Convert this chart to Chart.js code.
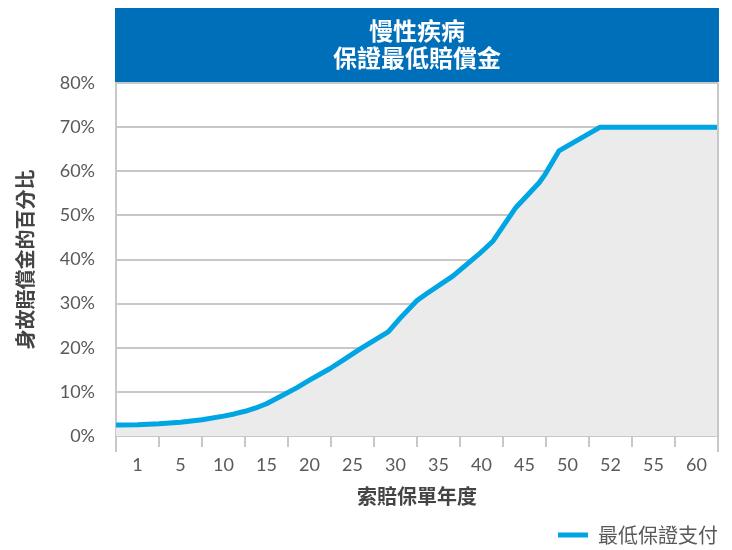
<!DOCTYPE html>
<html>
<head>
<meta charset="utf-8">
<script src="https://cdn.jsdelivr.net/npm/chart.js@4"></script>
<style>
  body { margin: 0; background: #fff; }
  #wrap { width: 732px; height: 550px; }
</style>
</head>
<body>
<div id="wrap"><canvas id="myChart" width="732" height="550"></canvas></div>
<script>
var titleLines = ["慢性疾病", "保證最低賠償金"];
var yearLabels = ["1", "5", "10", "15", "20", "25", "30", "35", "40", "45", "50", "52", "55", "60"];
var yTitle = "身故賠償金的百分比";
var xTitle = "索賠保單年度";
var seriesName = "最低保證支付";

// position along the year axis (in label slots) and payout %
var curveX = [0, 0.5, 1.0, 1.5, 2.0, 2.5, 2.75, 3.0, 3.25, 3.5, 3.81, 4.2, 4.51, 4.98, 5.3, 5.67, 6.33, 6.6, 7.0, 7.23, 7.84, 8.44, 8.77, 9.3, 9.84, 9.98, 10.3, 11.26, 14];
var curveY = [2.5, 2.55, 2.75, 3.1, 3.7, 4.5, 5.0, 5.6, 6.35, 7.3, 8.9, 10.9, 12.7, 15.3, 17.3, 19.7, 23.6, 26.6, 30.7, 32.3, 36.3, 41.2, 44.2, 51.8, 57.4, 59.3, 64.6, 70, 70];

var blue = "#00a5e3";
var gridGrey = "#c8c8c8";
var textGrey = "#595959";
var numFont = "Lato, 'Noto Sans CJK TC', sans-serif";
var cjkFont = "'Noto Sans CJK TC', sans-serif";

var points = [];
for (let i = 0; i < curveX.length; i++) {
    points.push({ x: curveX[i], y: curveY[i] });
}

// blue title banner and frame lines
var framePlugin = {
    id: "frame",
    beforeDraw(chart) {
        const ctx = chart.ctx;
        const a = chart.chartArea;
        ctx.save();
        ctx.fillStyle = "#006fba";
        ctx.fillRect(a.left - 1, 8, a.right - a.left + 2, a.top - 9);
        ctx.fillStyle = "#fff";
        ctx.font = "bold 24px " + cjkFont;
        ctx.textAlign = "center";
        ctx.textBaseline = "middle";
        const cx = (a.left + a.right) / 2;
        ctx.fillText(titleLines[0], cx, 31);
        ctx.fillText(titleLines[1], cx, 58);
        ctx.restore();
    },
    afterDraw(chart) {
        const ctx = chart.ctx;
        const a = chart.chartArea;
        ctx.save();
        ctx.strokeStyle = gridGrey;
        ctx.lineWidth = 2;
        ctx.beginPath();
        ctx.moveTo(a.left, a.top);
        ctx.lineTo(a.right, a.top);
        ctx.moveTo(a.right, a.top);
        ctx.lineTo(a.right, a.bottom + 16);
        ctx.moveTo(a.left, a.bottom);
        ctx.lineTo(a.left, a.bottom + 16);
        ctx.stroke();
        ctx.restore();
    }
};

var chart = new Chart(document.getElementById("myChart"), {
    type: "line",
    data: {
        datasets: [{
            label: seriesName,
            data: points,
            borderColor: blue,
            backgroundColor: "#ebebeb",
            borderWidth: 5,
            borderJoinStyle: "round",
            fill: "origin",
            pointRadius: 0,
            tension: 0
        }]
    },
    options: {
        responsive: false,
        animation: false,
        layout: { padding: { top: 83, right: 14, left: 0, bottom: -5 } },
        plugins: {
            legend: {
                position: "bottom",
                align: "end",
                labels: {
                    boxWidth: 30,
                    boxHeight: 5,
                    padding: 0,
                    color: textGrey,
                    font: { family: cjkFont, size: 20 },
                    generateLabels: function () {
                        return [{
                            text: seriesName,
                            fillStyle: blue,
                            strokeStyle: blue,
                            lineWidth: 0,
                            fontColor: textGrey,
                            datasetIndex: 0
                        }];
                    }
                }
            },
            tooltip: { enabled: false }
        },
        scales: {
            x: {
                type: "linear",
                min: 0,
                max: 14,
                afterBuildTicks: function (scale) {
                    let t = [];
                    for (let i = 0; i <= 28; i++) t.push({ value: i / 2 });
                    scale.ticks = t;
                },
                afterFit: function (scale) { scale.height = 89; },
                border: { display: true, color: gridGrey, width: 2 },
                grid: {
                    drawOnChartArea: false,
                    drawTicks: true,
                    tickLength: 11,
                    lineWidth: 2,
                    color: function (c) {
                        return c.tick && c.tick.value % 1 === 0 ? gridGrey : "rgba(0,0,0,0)";
                    }
                },
                ticks: {
                    autoSkip: false,
                    maxRotation: 0,
                    padding: 7,
                    color: textGrey,
                    font: { family: numFont, size: 18 },
                    callback: function (v) {
                        return v % 1 === 0.5 ? yearLabels[Math.floor(v)] : "";
                    }
                },
                title: {
                    display: true,
                    text: xTitle,
                    color: "#444",
                    font: { family: cjkFont, size: 20, weight: "bold" },
                    padding: { top: 0, bottom: 17 }
                }
            },
            y: {
                min: 0,
                max: 80,
                afterFit: function (scale) { scale.width = 116; },
                border: { display: true, color: gridGrey, width: 2 },
                grid: { color: gridGrey, lineWidth: 2, drawTicks: false },
                ticks: {
                    stepSize: 10,
                    padding: 21,
                    color: textGrey,
                    font: { family: numFont, size: 18 },
                    callback: function (v) { return v + "%"; }
                },
                title: {
                    display: true,
                    text: yTitle,
                    color: "#444",
                    font: { family: cjkFont, size: 20, weight: "bold" },
                    padding: { top: 13, bottom: 0 }
                }
            }
        }
    },
    plugins: [framePlugin]
});
</script>
</body>
</html>
